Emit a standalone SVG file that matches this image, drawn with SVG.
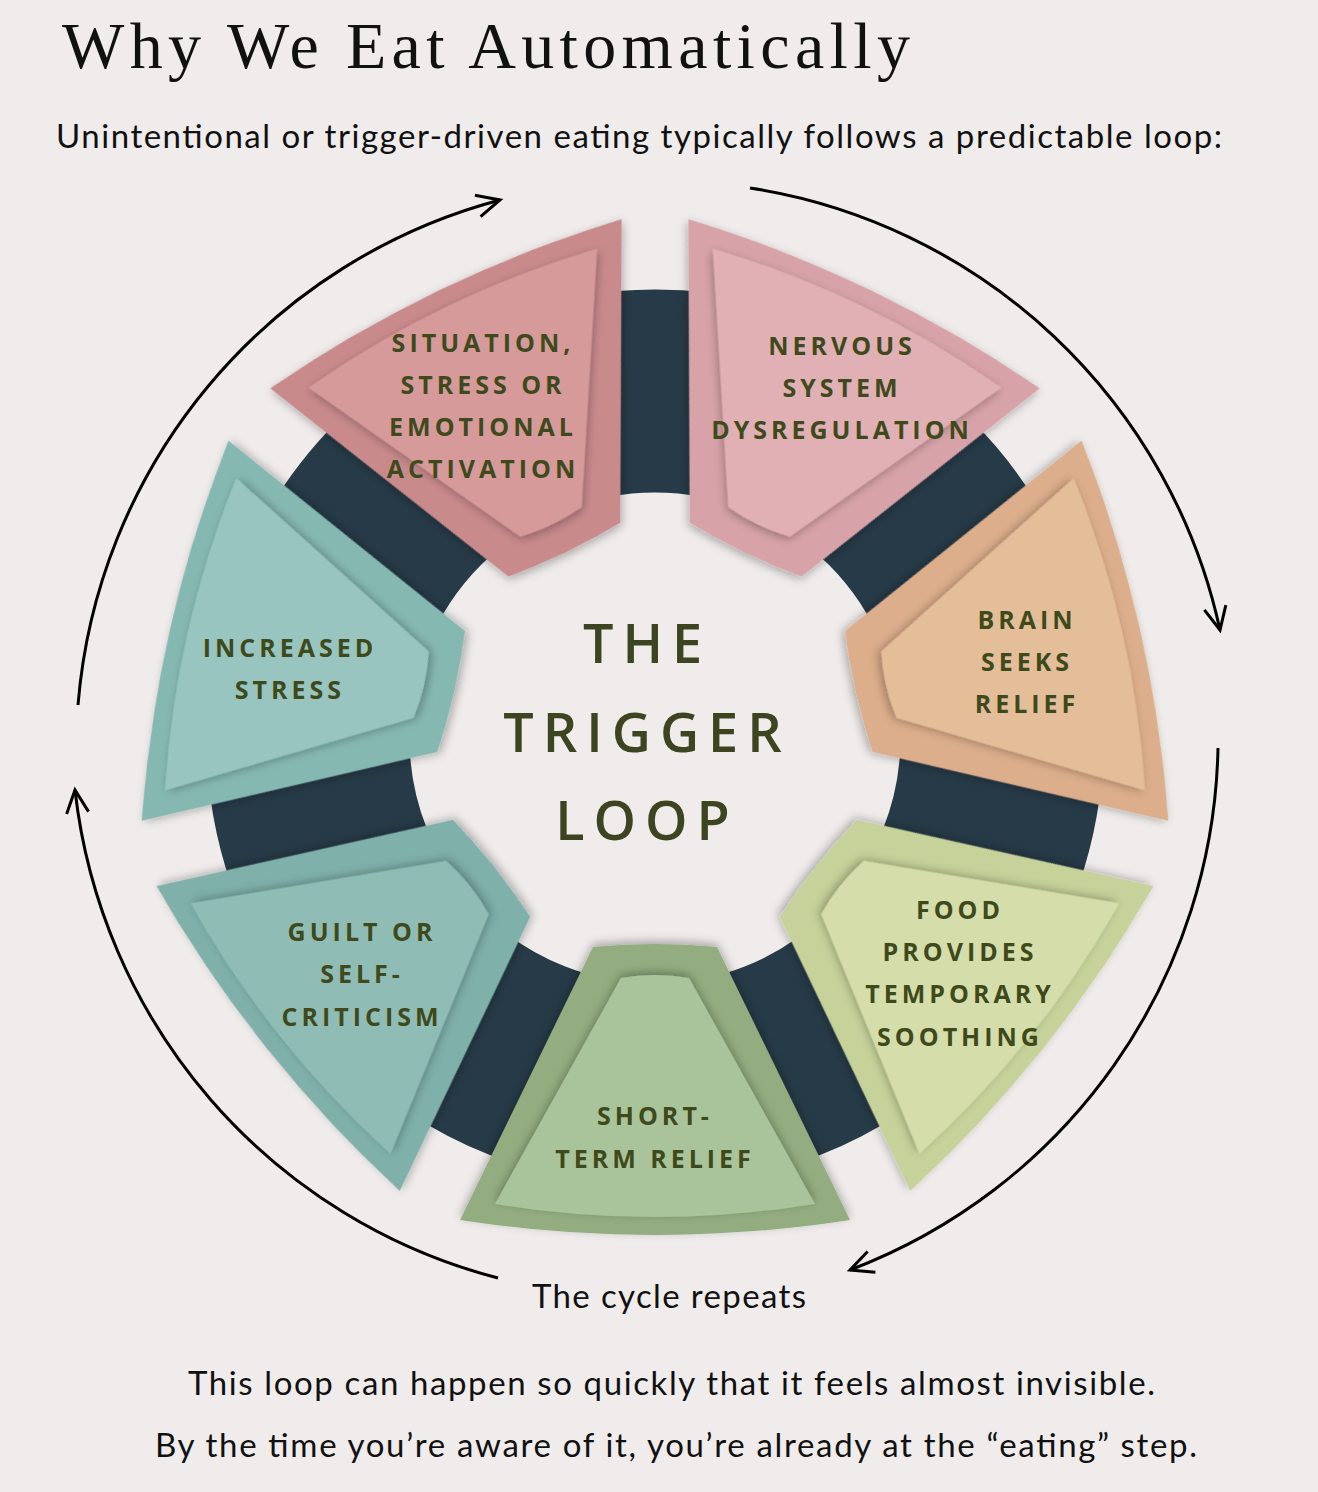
<svg xmlns="http://www.w3.org/2000/svg" width="1318" height="1492" viewBox="0 0 1318 1492">
<defs>
<filter id="sh" x="-20%" y="-20%" width="140%" height="140%"><feDropShadow dx="0" dy="3" stdDeviation="5" flood-color="#000" flood-opacity="0.3"/></filter>
<path id="wo" d="M-62,-209 L-195,-482 Q0,-512 195,-482 L62,-209 Q0,-203 -62,-209 Z"/>
<path id="wi" d="M-34,-240 L-160,-466 Q0,-492 160,-466 L34,-240 Q0,-234 -34,-240 Z"/>
<marker id="ah" viewBox="0 0 30 30" refX="26" refY="15" markerWidth="30" markerHeight="30" markerUnits="userSpaceOnUse" orient="auto"><path d="M3,4 L26,15 L3,26" fill="none" stroke="#000" stroke-width="3"/></marker>
<style>
.lbl{font-family:"Open Sans","Liberation Sans",sans-serif;font-weight:700;font-size:25px;letter-spacing:4px;fill:#3f4a1c;text-anchor:middle}
.ctr{font-family:"Open Sans","Liberation Sans",sans-serif;font-weight:600;font-size:54px;letter-spacing:9px;fill:#3c4520;text-anchor:middle}
.body{font-family:Lato,"Liberation Sans",sans-serif;font-size:33px;fill:#111}
.arc{fill:none;stroke:#000;stroke-width:3;marker-end:url(#ah)}
</style>
</defs>
<rect width="1318" height="1492" fill="#efeceb"/>
<text x="62" y="68" font-family="'Liberation Serif',serif" font-size="66" fill="#111" textLength="848" lengthAdjust="spacing">Why We Eat Automatically</text>
<text x="56" y="148" class="body" textLength="1166" lengthAdjust="spacing">Unintentional or trigger-driven eating typically follows a predictable loop:</text>
<circle cx="655" cy="738" r="347" fill="none" stroke="#263a47" stroke-width="203"/>
<g id="n1" transform="translate(655,738) rotate(-25.71)"><use href="#wo" fill="#c98a8c" filter="url(#sh)"/><use href="#wi" fill="#d69a9b" filter="url(#sh)"/></g>
<g id="n2" transform="translate(655,738) rotate(25.71)"><use href="#wo" fill="#d7a3a8" filter="url(#sh)"/><use href="#wi" fill="#e1b0b4" filter="url(#sh)"/></g>
<g id="n3" transform="translate(655,738) rotate(77.14)"><use href="#wo" fill="#dcae8b" filter="url(#sh)"/><use href="#wi" fill="#e4be98" filter="url(#sh)"/></g>
<g id="n4" transform="translate(655,738) rotate(128.57)"><use href="#wo" fill="#c6d29a" filter="url(#sh)"/><use href="#wi" fill="#d5deaa" filter="url(#sh)"/></g>
<g id="n5" transform="translate(655,738) rotate(180)"><use href="#wo" fill="#93ad80" filter="url(#sh)"/><use href="#wi" fill="#a9c49a" filter="url(#sh)"/></g>
<g id="n6" transform="translate(655,738) rotate(231.43)"><use href="#wo" fill="#7fb0aa" filter="url(#sh)"/><use href="#wi" fill="#8fbdb6" filter="url(#sh)"/></g>
<g id="n7" transform="translate(655,738) rotate(282.86)"><use href="#wo" fill="#86b8b2" filter="url(#sh)"/><use href="#wi" fill="#98c5bf" filter="url(#sh)"/></g>
<g id="labels">
<text class="lbl" x="483" y="352">SITUATION,</text><text class="lbl" x="483" y="394">STRESS OR</text><text class="lbl" x="483" y="436">EMOTIONAL</text><text class="lbl" x="483" y="478">ACTIVATION</text>
<text class="lbl" x="842" y="355">NERVOUS</text><text class="lbl" x="842" y="397">SYSTEM</text><text class="lbl" x="842" y="439">DYSREGULATION</text>
<text class="lbl" x="1027" y="629">BRAIN</text><text class="lbl" x="1027" y="671">SEEKS</text><text class="lbl" x="1027" y="713">RELIEF</text>
<text class="lbl" x="960" y="919">FOOD</text><text class="lbl" x="960" y="961">PROVIDES</text><text class="lbl" x="960" y="1003">TEMPORARY</text><text class="lbl" x="960" y="1046">SOOTHING</text>
<text class="lbl" x="655" y="1125">SHORT-</text><text class="lbl" x="655" y="1168">TERM RELIEF</text>
<text class="lbl" x="362" y="941">GUILT OR</text><text class="lbl" x="362" y="983">SELF-</text><text class="lbl" x="362" y="1026">CRITICISM</text>
<text class="lbl" x="290" y="657">INCREASED</text><text class="lbl" x="290" y="699">STRESS</text>
<text class="ctr" x="647" y="663">THE</text><text class="ctr" x="647" y="752">TRIGGER</text><text class="ctr" x="647" y="840">LOOP</text>
</g>
<g id="connectors">
<path class="arc" d="M78,705 A570,570 0 0 1 500,200"/>
<path class="arc" d="M750,188 A570,570 0 0 1 1220,630"/>
<path class="arc" d="M1218,748 A570,570 0 0 1 850,1270"/>
<path class="arc" d="M498,1278 A570,570 0 0 1 75,790"/>
</g>
<text x="532" y="1308" class="body" textLength="274" lengthAdjust="spacing">The cycle repeats</text>
<text x="188" y="1395" class="body" textLength="967" lengthAdjust="spacing">This loop can happen so quickly that it feels almost invisible.</text>
<text x="155" y="1457" class="body" textLength="1042" lengthAdjust="spacing">By the time you’re aware of it, you’re already at the “eating” step.</text>
</svg>
